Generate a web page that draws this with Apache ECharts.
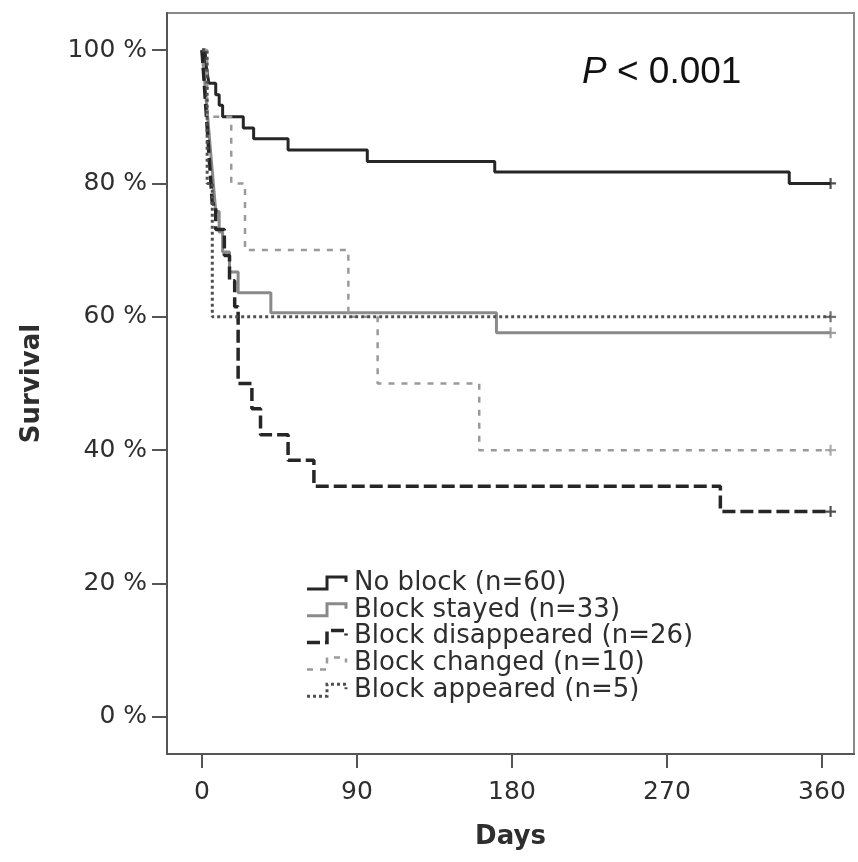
<!DOCTYPE html>
<html>
<head>
<meta charset="utf-8">
<script src="https://cdn.jsdelivr.net/npm/echarts@6/dist/echarts.min.js"></script>
<style>
html,body{margin:0;padding:0;background:#fff;}
#chart{width:858px;height:862px;}
</style>
</head>
<body>
<div id="chart"></div>
<script>
// ---- data ----
const xTicks = [0, 90, 180, 270, 360];
const yTicks = [0, 20, 40, 60, 80, 100];
const seriesNames = ['No block (n=60)', 'Block stayed (n=33)', 'Block disappeared (n=26)', 'Block changed (n=10)', 'Block appeared (n=5)'];

const noBlockDays = [0, 2, 3, 4, 8, 10, 12, 24, 30, 50, 96, 170, 341, 365];
const noBlockSurv = [100, 98.3, 96.7, 95, 93.3, 91.7, 90, 88.3, 86.7, 85, 83.3, 81.7, 80, 80];

const stayedDays = [0, 1, 2, 3, 4, 5, 6, 7, 8, 10, 12, 16, 21, 40, 171, 365];
const stayedSurv = [100, 97, 93.9, 90.9, 87.9, 84.8, 81.8, 78.8, 75.8, 72.7, 69.7, 66.7, 63.6, 60.6, 57.6, 57.6];

const disappDays = [0, 1, 2, 3, 4, 5, 6, 8, 13, 16, 19, 21, 29, 34, 50, 65, 301, 365];
const disappSurv = [100, 96.2, 92.3, 88.5, 84.6, 80.8, 76.9, 73.1, 69.2, 65.4, 61.5, 50, 46.2, 42.3, 38.5, 34.6, 30.8, 30.8];

const changedDays = [0, 3, 17, 25, 85, 102, 161, 365];
const changedSurv = [100, 90, 80, 70, 60, 50, 40, 40];

const appearedDays = [0, 3, 6, 365];
const appearedSurv = [100, 80, 60, 60];

// ---- styles ----
const styles = [
  {color: '#262626', width: 3, type: 'solid'},
  {color: '#8a8a8a', width: 3, type: 'solid'},
  {color: '#262626', width: 3.5, type: [13, 5]},
  {color: '#9a9a9a', width: 2.5, type: [6, 7]},
  {color: '#505050', width: 3, type: [3, 3]}
];
const daysList = [noBlockDays, stayedDays, disappDays, changedDays, appearedDays];
const survList = [noBlockSurv, stayedSurv, disappSurv, changedSurv, appearedSurv];
const drawOrder = [1, 3, 4, 2, 0];

const plus = 'path://M4,0H6V4H10V6H6V10H4V6H0V4H4Z';

const series = [];
drawOrder.forEach(function (i) {
  const d = daysList[i].map(function (t, k) { return [t, survList[i][k]]; });
  series.push({
    name: seriesNames[i], type: 'line', step: 'end', data: d,
    symbol: 'none', lineStyle: styles[i], z: 2 + i, silent: true
  });
});
series.push({
  type: 'scatter', symbol: plus, symbolSize: 11, silent: true, z: 10,
  data: daysList.map(function (ds, i) {
    return {value: [ds[ds.length - 1], survList[i][survList[i].length - 1]], itemStyle: {color: styles[i].color}};
  })
});

// legend as graphics
const legendTop = 583, legendStep = 26.8;
const graphics = [];
seriesNames.forEach(function (n, i) {
  const cy = legendTop + i * legendStep;
  graphics.push({
    type: 'polyline', silent: true, z: 20,
    shape: {points: [[307, cy + 6], [327, cy + 6], [327, cy - 6], [346, cy - 6], [346, cy - 1]]},
    style: {stroke: styles[i].color, lineWidth: styles[i].width, lineDash: styles[i].type === 'solid' ? null : styles[i].type, fill: null}
  });
  graphics.push({
    type: 'text', silent: true, z: 20, x: 354, y: cy,
    style: {text: n, font: '26px "DejaVu Sans"', fill: '#2e2e2e', verticalAlign: 'middle', align: 'left'}
  });
});
graphics.push({
  type: 'text', silent: true, z: 20, x: 582, y: 73,
  style: {
    text: '{i|P} < 0.001', verticalAlign: 'middle', align: 'left',
    font: '37px "Liberation Sans"', fill: '#111',
    rich: {i: {fontStyle: 'italic', fontSize: 37, fontFamily: 'Liberation Sans', fill: '#111'}}
  }
});

const chart = echarts.init(document.getElementById('chart'));
chart.setOption({
  animation: false,
  backgroundColor: '#fff',
  grid: {left: 167, right: 4, top: 13, bottom: 108, show: true, borderColor: '#8a8a8a', borderWidth: 2, backgroundColor: 'transparent'},
  xAxis: {
    type: 'value', min: -20.3, max: 378.6,
    name: 'Days', nameLocation: 'middle', nameGap: 70,
    nameTextStyle: {fontFamily: 'DejaVu Sans', fontWeight: 'bold', fontSize: 26, color: '#2e2e2e'},
    axisLine: {show: true, onZero: false, lineStyle: {color: '#555', width: 2}},
    axisTick: {show: true, length: 14, inside: false, customValues: xTicks, lineStyle: {color: '#555', width: 2}},
    axisLabel: {customValues: xTicks, margin: 26, fontFamily: 'DejaVu Sans', fontSize: 25, color: '#2e2e2e'},
    splitLine: {show: false}
  },
  yAxis: {
    type: 'value', min: -5.55, max: 105.55,
    name: 'Survival', nameLocation: 'middle', nameGap: 122,
    nameTextStyle: {fontFamily: 'DejaVu Sans', fontWeight: 'bold', fontSize: 26, color: '#2e2e2e'},
    axisLine: {show: true, onZero: false, lineStyle: {color: '#555', width: 2}},
    axisTick: {show: true, length: 15, customValues: yTicks, lineStyle: {color: '#555', width: 2}},
    axisLabel: {customValues: yTicks, margin: 20, fontFamily: 'DejaVu Sans', fontSize: 25, color: '#2e2e2e',
      formatter: function (v) { return v + ' %'; }},
    splitLine: {show: false}
  },
  graphic: graphics,
  series: series
});
</script>
</body>
</html>
